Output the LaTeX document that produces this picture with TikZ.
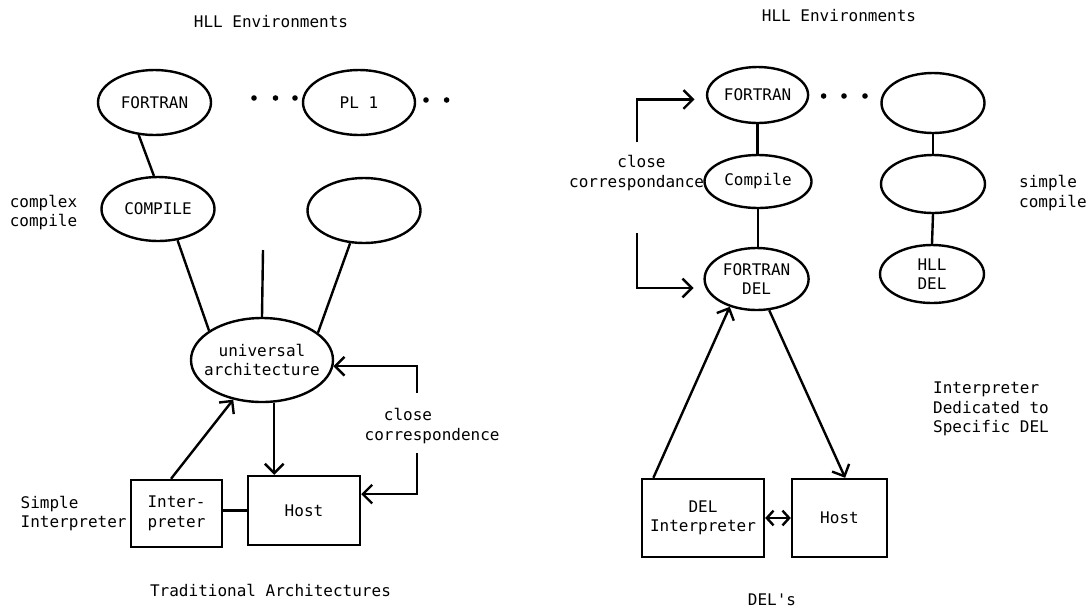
\documentclass[tikz,border=0pt]{standalone}
\usepackage{fontspec}
\setmonofont{DejaVu Sans Mono}
\usetikzlibrary{shapes.geometric,arrows.meta}

\begin{document}
\begin{tikzpicture}[x=0.75pt,y=0.75pt,yscale=-1,xscale=1,
  line width=1.8pt,
  font=\ttfamily\fontsize{12}{14.6}\selectfont,
  ell/.style={ellipse,draw,inner sep=0pt,align=center},
  box/.style={rectangle,draw,inner sep=0pt,align=center},
  txt/.style={inner sep=0pt,align=left},
  arr/.style={-{Straight Barb[length=7pt,width=14pt]}},
  dblarr/.style={{Straight Barb[length=5pt,width=11pt]}-{Straight Barb[length=5pt,width=11pt]}}]
  \useasboundingbox (0,0) rectangle (1089,608);

  %%%%% Traditional Architectures (left)

  %Shape: Ellipse
  \node [ell,minimum width=84.75pt,minimum height=48.75pt] (lfort) at (154.5,102.5) {FORTRAN};
  \node [ell,minimum width=84pt,minimum height=48.75pt] (lpl) at (359,102.5) {PL 1};
  \node [ell,minimum width=84.75pt,minimum height=48pt] (lcomp) at (158,209) {COMPILE};
  \node [ell,minimum width=84.75pt,minimum height=48.75pt] (lblank) at (364,210.5) {};
  \node [ell,inner xsep=-12pt,minimum width=106.5pt,minimum height=63pt] (univ) at (262,360) {universal\\architecture};
  %Shape: Rectangle
  \node [box,minimum width=68.25pt,minimum height=50.25pt] (interp) at (176.5,513.5) {Inter-\\preter};
  \node [box,minimum width=84pt,minimum height=51.75pt] (lhost) at (304,510.5) {Host};
  \coordinate (lfree) at (263,250);
  \coordinate (cctop) at (417,393);
  \coordinate (ccbot) at (417,453);

  %Dots
  \foreach \x/\y in {254/98,275.5/98,295/98,426/100,446.6/100}
    \fill (\x,\y) circle (2.8);

  %Straight Lines
  \draw (lfort.244) -- (lcomp.97);
  \draw (lcomp.302) -- (univ.151);
  \draw (lfree) -- (univ.north);
  \draw (lblank.247) -- (univ.26);
  \draw (interp.east |- lhost.west) -- (lhost.west);
  %Arrows
  \draw [arr] (univ.286) -- (univ.286 |- lhost.north);
  \draw [arr] (interp.99) -- (univ.234);
  \draw [arr] (cctop) |- (univ.355);
  \draw [arr] (ccbot) |- (lhost.16);

  % Text Node
  \node [txt,anchor=center] (lhll) at (271,22) {HLL Environments};
  % Text Node
  \node [txt,anchor=west] (cplx) at (8.6,212.5) {complex\\compile};
  % Text Node
  \node [txt,anchor=west] (lcc) at (363.5,426) {\hphantom{co}close\\correspondence};
  % Text Node
  \node [txt,anchor=east,inner sep=1.5pt] (simple) at (interp.west) {Simple\\Interpreter};
  % Text Node
  \node [txt,anchor=center] (trad) at (270.5,590) {Traditional Architectures};

  %%%%% DEL's (right)

  %Shape: Ellipse
  \node [ell,minimum width=75.75pt,minimum height=42pt] (rfort) at (757.6,95) {FORTRAN};
  \node [ell,minimum width=77.25pt,minimum height=45pt] (rblanka) at (933,103) {};
  \node [ell,minimum width=80.25pt,minimum height=39.75pt] (rcomp) at (758,181.5) {Compile};
  \node [ell,minimum width=78pt,minimum height=43.5pt] (rblankb) at (933,184) {};
  \node [ell,minimum width=78pt,minimum height=46.5pt] (rdel) at (756.6,279) {FORTRAN\\DEL};
  \node [ell,minimum width=78pt,minimum height=43.5pt] (hlldel) at (932,274) {HLL\\DEL};
  %Shape: Rectangle
  \node [box,minimum width=91.5pt,minimum height=58.5pt] (delint) at (703,518) {DEL\\Interpreter};
  \node [box,minimum width=71.25pt,minimum height=58.5pt] (rhost) at (839.5,518) {Host};
  \coordinate (brtop) at (637,142);
  \coordinate (brbot) at (637,233);

  %Dots
  \foreach \x in {823.6,844,865}
    \fill (\x,96) circle (2.8);

  %Straight Lines
  \draw (rfort.south) -- (rfort.south |- rcomp.north);
  \draw (rcomp.south) -- (rcomp.south |- rdel.north);
  \draw (rblanka.south) -- (rblankb.north);
  \draw (rblankb.south) -- (hlldel.north);
  %Arrows
  \draw [arr,shorten >=9pt] (brtop) |- (rfort.185);
  \draw [arr,shorten >=9pt] (brbot) |- (rdel.190);
  \draw [arr] (delint.141) -- (rdel.226);
  \draw [arr] (rdel.292) -- (rhost.82);
  \draw [dblarr] (delint.east) -- (rhost.west);

  % Text Node
  \node [txt,anchor=center] (rhll) at (839,16) {HLL Environments};
  % Text Node
  \node [txt,anchor=west] (rcc) at (568,173) {\hphantom{corre}close\\correspondance};
  % Text Node
  \node [txt,anchor=west] (simpc) at (1018,193) {simple\\compile};
  % Text Node
  \node [txt,anchor=west] (dedic) at (932,409) {Interpreter\\Dedicated to\\Specific DEL};
  % Text Node
  \node [txt,anchor=center] (dels) at (772,600) {DEL's};

\end{tikzpicture}
\end{document}
